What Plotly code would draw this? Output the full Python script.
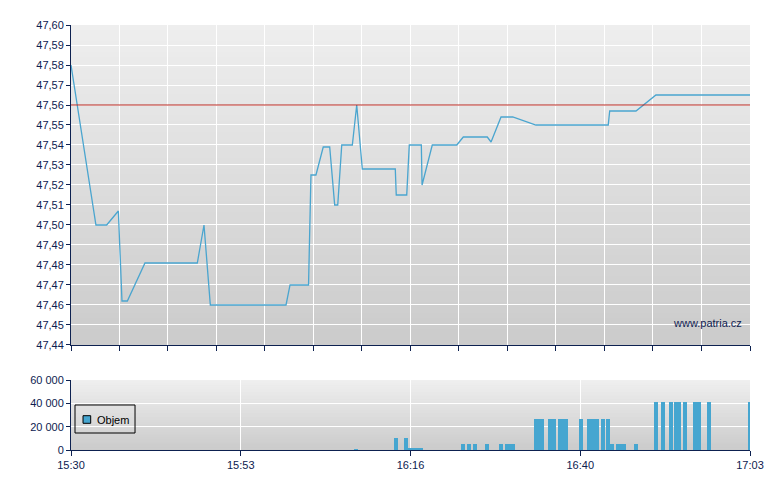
import plotly.graph_objects as go
import pandas as pd

DAY = "2024-01-01 "

# ---- data ----
price_times = ["15:30:00", "15:33:25", "15:34:53", "15:36:29", "15:36:59", "15:37:43",
               "15:40:08", "15:47:18", "15:48:13", "15:49:05", "15:59:27", "16:00:00",
               "16:02:32", "16:02:52", "16:03:33", "16:04:33", "16:05:26", "16:06:07",
               "16:06:32", "16:07:05", "16:08:32", "16:09:08", "16:09:54", "16:14:25",
               "16:14:33", "16:15:59", "16:16:20", "16:17:59", "16:18:05", "16:19:29",
               "16:22:50", "16:23:44", "16:27:01", "16:27:32", "16:28:54", "16:30:30",
               "16:33:41", "16:43:35", "16:43:47", "16:47:23", "16:50:07", "17:03:00"]
prices = [47.58, 47.50, 47.50, 47.507, 47.462, 47.462,
          47.481, 47.481, 47.50, 47.46, 47.46, 47.47,
          47.47, 47.525, 47.525, 47.539, 47.539, 47.51,
          47.51, 47.54, 47.54, 47.56, 47.528, 47.528,
          47.515, 47.515, 47.54, 47.54, 47.52, 47.54,
          47.54, 47.544, 47.544, 47.5415, 47.554, 47.554,
          47.55, 47.55, 47.557, 47.557, 47.565, 47.565]

reference_price = 47.56

vol_times = ["16:09:02", "16:14:31", "16:15:53", "16:16:26", "16:16:59", "16:17:32",
             "16:17:56", "16:23:41", "16:24:31", "16:25:20", "16:26:55", "16:28:54",
             "16:29:43", "16:30:08", "16:30:32", "16:33:41", "16:34:06", "16:34:31",
             "16:35:36", "16:36:09", "16:36:59", "16:37:23", "16:37:48", "16:39:51",
             "16:40:57", "16:41:30", "16:42:03", "16:42:52", "16:43:33", "16:44:06",
             "16:44:55", "16:45:20", "16:45:45", "16:47:23", "16:50:08", "16:51:05",
             "16:52:11", "16:52:52", "16:53:17", "16:54:06", "16:55:28", "16:56:01",
             "16:57:23", "17:03:00"]
volumes = [1000, 10000, 10000, 2000, 2000, 2000,
           2000, 5000, 5000, 5000, 5000, 5000,
           5000, 5000, 5000, 27000, 27000, 27000,
           27000, 27000, 27000, 27000, 27000, 27000,
           27000, 27000, 27000, 27000, 27000, 5000,
           5000, 5000, 5000, 5000, 41000, 41000,
           41000, 41000, 41000, 41000, 41000, 41000,
           41000, 41000]

volume_name = "Objem"
x_tick_labels = ["15:30", "15:53", "16:16", "16:40", "17:03"]
price_ticks = [47.44, 47.45, 47.46, 47.47, 47.48, 47.49, 47.50, 47.51,
               47.52, 47.53, 47.54, 47.55, 47.56, 47.57, 47.58, 47.59, 47.60]
volume_ticks = [0, 20000, 40000, 60000]

# ---- styling ----
NAVY = "#0d2150"
LINE_BLUE = "#4aa5cf"
BAR_BLUE = "#46a6d0"
RED = "#b8261f"
FONT = "Liberation Sans, Arial, sans-serif"

t_start = pd.Timestamp(DAY + "15:30:00")
t_end = pd.Timestamp(DAY + "17:03:00")
span = t_end - t_start
main_ticks = [t_start + span * i / 14 for i in range(15)]
vol_tickvals = [t_start + span * i / 4 for i in range(5)]

px_times = pd.to_datetime([DAY + t for t in price_times])
vx_times = pd.to_datetime([DAY + t for t in vol_times])

fig = go.Figure()

fig.add_trace(go.Scatter(
    x=px_times, y=prices, mode="lines",
    line=dict(color=LINE_BLUE, width=1.3),
    xaxis="x", yaxis="y", showlegend=False, hoverinfo="skip"))

fig.add_trace(go.Bar(
    x=vx_times, y=volumes, width=32000, name=volume_name,
    marker=dict(color=BAR_BLUE, line=dict(width=0)),
    xaxis="x2", yaxis="y2", showlegend=False, hoverinfo="skip"))

# gradient backgrounds
def gradient(xref, yref, top, bottom, n=60):
    shapes = []
    for i in range(n):
        f = i / (n - 1)
        c = [round(bottom[k] + (top[k] - bottom[k]) * f) for k in range(3)]
        shapes.append(dict(
            type="rect", xref=xref, yref=yref, x0=0, x1=1,
            y0=i / n, y1=min(1, (i + 1.6) / n),
            fillcolor="rgb(%d,%d,%d)" % tuple(c), line=dict(width=0), layer="below"))
    return shapes

shapes = gradient("x domain", "y domain", (238, 238, 238), (203, 203, 203))
shapes += gradient("x2 domain", "y2 domain", (239, 239, 239), (203, 203, 203))

# reference line
shapes.append(dict(type="line", xref="x domain", yref="y", x0=0, x1=1,
                   y0=reference_price, y1=reference_price,
                   line=dict(color=RED, width=1), layer="above"))

# legend box for the volume series
shapes.append(dict(type="rect", xref="paper", yref="paper",
                   x0=0.0059, x1=0.0943, y0=0.040, y1=0.1059,
                   line=dict(color="black", width=1), fillcolor="rgba(0,0,0,0)",
                   layer="above"))
shapes.append(dict(type="rect", xref="paper", yref="paper",
                   x0=0.0177, x1=0.0290, y0=0.0628, y1=0.0807,
                   line=dict(color="black", width=1), fillcolor=BAR_BLUE,
                   layer="above"))

tickfont = dict(family=FONT, size=11, color=NAVY)

fig.update_layout(
    width=772, height=482,
    margin=dict(l=63, r=30, t=17, b=40, autoexpand=False),
    paper_bgcolor="white", plot_bgcolor="rgb(220,220,220)",
    separators=", ",
    showlegend=False,
    font=dict(family=FONT, size=11, color=NAVY),
    shapes=shapes,
    xaxis=dict(domain=[0, 1], anchor="y", type="date",
               range=[t_start, t_end], tickmode="array", tickvals=main_ticks,
               showticklabels=False, ticks="outside", ticklen=5, tickcolor=NAVY,
               showgrid=True, gridcolor="white", gridwidth=1,
               showline=True, linecolor=NAVY, linewidth=1, zeroline=False),
    yaxis=dict(domain=[0.2471, 1], anchor="x", range=[47.44, 47.60],
               tickmode="array", tickvals=price_ticks, tickformat=".2f",
               ticks="outside", ticklen=4, tickcolor=NAVY, tickfont=tickfont,
               showgrid=True, gridcolor="white", gridwidth=1,
               showline=True, linecolor=NAVY, linewidth=1, zeroline=False),
    xaxis2=dict(domain=[0, 1], anchor="y2", type="date",
                range=[t_start, t_end], tickmode="array", tickvals=vol_tickvals,
                ticktext=x_tick_labels, ticks="outside", ticklen=5, tickcolor=NAVY,
                tickfont=tickfont,
                showgrid=True, gridcolor="white", gridwidth=1,
                showline=True, linecolor=NAVY, linewidth=1, zeroline=False),
    yaxis2=dict(domain=[0, 0.1647], anchor="x2", range=[0, 60000],
                tickmode="array", tickvals=volume_ticks, tickformat=",d",
                ticks="outside", ticklen=4, tickcolor=NAVY, tickfont=tickfont,
                showgrid=True, gridcolor="white", gridwidth=1,
                showline=True, linecolor=NAVY, linewidth=1, zeroline=False),
    bargap=0,
    annotations=[
        dict(text="www.patria.cz", xref="x domain", yref="y",
             x=1, y=47.451, xanchor="right", yanchor="middle", xshift=-6,
             showarrow=False, font=dict(family=FONT, size=11, color=NAVY)),
        dict(text=volume_name, xref="paper", yref="paper",
             x=0.0353, y=0.0706, xanchor="left", yanchor="middle",
             showarrow=False, font=dict(family=FONT, size=11, color="black")),
    ],
)

fig.write_html("out.html", config={"displayModeBar": False, "staticPlot": True})
